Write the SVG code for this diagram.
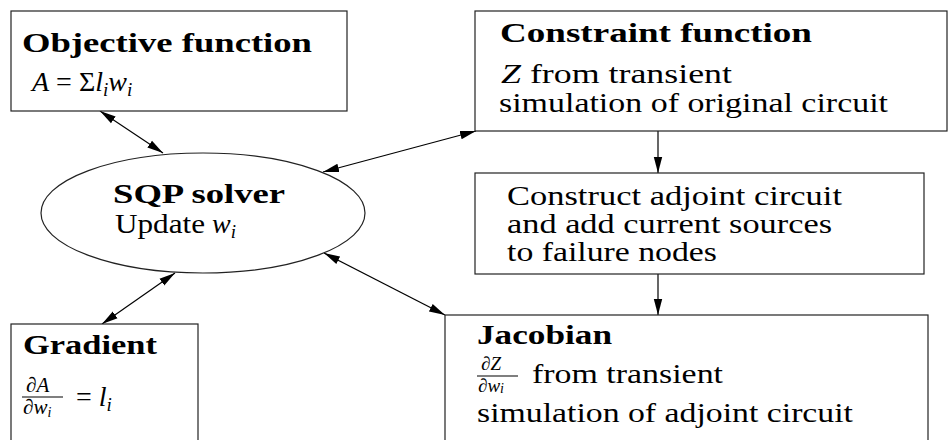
<svg xmlns="http://www.w3.org/2000/svg" width="948" height="440" viewBox="0 0 948 440">
<defs>
<style>
.box{fill:#fff;stroke:#222;stroke-width:1.2}
text{font-family:'Liberation Serif','DejaVu Serif','Noto Serif',serif;font-size:28px;fill:#000}
.b{font-weight:bold}
.i{font-style:italic}
.s{font-size:19px}
.f{font-size:21px}
.fj{font-size:19px}
.fs{font-size:14px}
.c{stroke:#000;stroke-width:1.2;fill:none}
</style>
<marker id="ah" markerUnits="userSpaceOnUse" markerWidth="18" markerHeight="10" refX="16" refY="5" orient="auto-start-reverse">
<path d="M0,0.8 L16,5 L0,9.2 z" fill="#000"/>
</marker>
</defs>
<rect width="948" height="440" fill="#fff"/>
<g id="connectors">
<line class="c" x1="100" y1="111" x2="163" y2="153" marker-start="url(#ah)" marker-end="url(#ah)"/>
<line class="c" x1="323" y1="172" x2="476" y2="131" marker-start="url(#ah)" marker-end="url(#ah)"/>
<line class="c" x1="324" y1="253" x2="445" y2="315" marker-start="url(#ah)" marker-end="url(#ah)"/>
<line class="c" x1="175" y1="273" x2="102" y2="324" marker-start="url(#ah)" marker-end="url(#ah)"/>
<line class="c" x1="658" y1="131" x2="658" y2="173" marker-end="url(#ah)"/>
<line class="c" x1="658" y1="274" x2="658" y2="315" marker-end="url(#ah)"/>
</g>
<g id="objective">
<rect class="box" x="11" y="11" width="336" height="100"/>
<text class="b" x="22" y="52" textLength="290" lengthAdjust="spacingAndGlyphs">Objective function</text>
<text x="32" y="91"><tspan class="i">A</tspan> = Σ<tspan class="i">l</tspan><tspan class="i s" dy="5">i</tspan><tspan class="i" dy="-5">w</tspan><tspan class="i s" dy="5">i</tspan></text>
</g>
<g id="constraint">
<rect class="box" x="475" y="11" width="472" height="120"/>
<text class="b" x="500" y="42" textLength="312" lengthAdjust="spacingAndGlyphs">Constraint function</text>
<text x="501" y="83" textLength="231" lengthAdjust="spacingAndGlyphs"><tspan class="i">Z</tspan> from transient</text>
<text x="499" y="112" textLength="389" lengthAdjust="spacingAndGlyphs">simulation of original circuit</text>
</g>
<g id="adjoint">
<rect class="box" x="475" y="173" width="449" height="101"/>
<text x="507" y="205" textLength="335" lengthAdjust="spacingAndGlyphs">Construct adjoint circuit</text>
<text x="507" y="233" textLength="325" lengthAdjust="spacingAndGlyphs">and add current sources</text>
<text x="507" y="261" textLength="210" lengthAdjust="spacingAndGlyphs">to failure nodes</text>
</g>
<g id="solver">
<ellipse class="box" cx="203" cy="213" rx="162" ry="60"/>
<text class="b" x="113" y="203" textLength="172" lengthAdjust="spacingAndGlyphs">SQP solver</text>
<text x="115" y="233"><tspan textLength="90" lengthAdjust="spacingAndGlyphs">Update</tspan> <tspan class="i">w</tspan><tspan class="i s" dy="5">i</tspan></text>
</g>
<g id="gradient">
<rect class="box" x="11" y="324" width="187" height="130"/>
<text class="b" x="23" y="354" textLength="134" lengthAdjust="spacingAndGlyphs">Gradient</text>
<text class="f" x="26" y="392">∂<tspan class="i">A</tspan></text>
<line x1="22" y1="397" x2="63" y2="397" stroke="#000" stroke-width="1.2"/>
<text class="f" x="23" y="414">∂<tspan class="i">w</tspan><tspan class="i fs" dy="3">i</tspan></text>
<text x="76" y="406">= <tspan class="i">l</tspan><tspan class="i s" dy="5">i</tspan></text>
</g>
<g id="jacobian">
<rect class="box" x="445" y="315" width="483" height="140"/>
<text class="b" x="477" y="344" textLength="135" lengthAdjust="spacingAndGlyphs">Jacobian</text>
<text class="fj" x="481" y="370">∂<tspan class="i">Z</tspan></text>
<line x1="477" y1="376" x2="518" y2="376" stroke="#000" stroke-width="1.2"/>
<text class="fj" x="478" y="392">∂<tspan class="i">w</tspan><tspan class="i fs" dy="1">i</tspan></text>
<text x="532" y="383" textLength="191" lengthAdjust="spacingAndGlyphs">from transient</text>
<text x="477" y="422" textLength="376" lengthAdjust="spacingAndGlyphs">simulation of adjoint circuit</text>
</g>
</svg>
